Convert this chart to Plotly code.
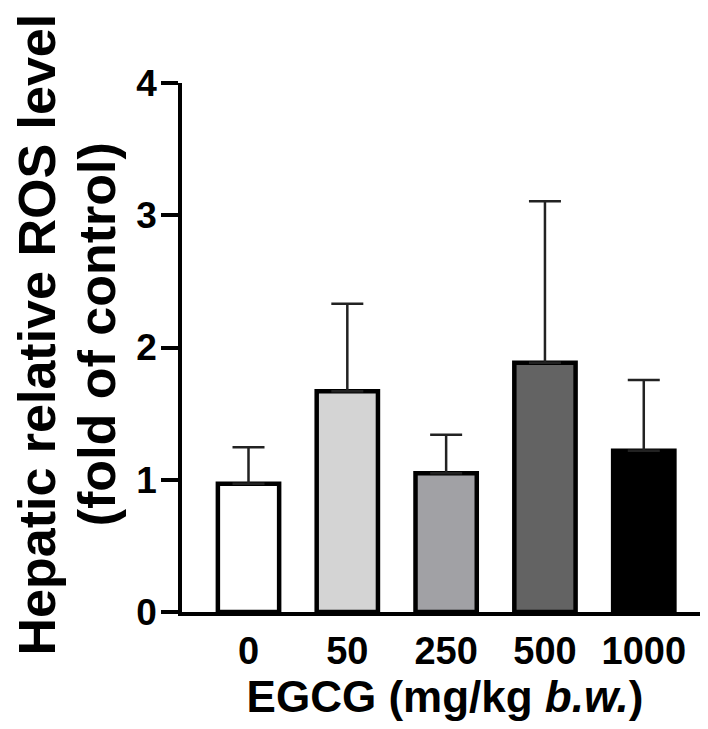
import plotly.graph_objects as go

categories = ["0", "50", "250", "500", "1000"]
means = [0.97, 1.67, 1.05, 1.885, 1.22]
sd_upper = [0.275, 0.66, 0.29, 1.22, 0.535]
fills = ["#ffffff", "#d4d4d4", "#a1a1a5", "#636363", "#000000"]
y_ticks = [0, 1, 2, 3, 4]

FONT = "Liberation Sans, Arial, sans-serif"

fig = go.Figure()
fig.add_trace(go.Bar(
    x=list(range(len(categories))),
    y=means,
    width=0.62,
    marker=dict(color=fills, line=dict(color="#000000", width=4.5)),
    error_y=dict(type="data", symmetric=False, array=sd_upper,
                 arrayminus=[0] * len(means), color="#222222",
                 thickness=2.5, width=16),
    showlegend=False,
))

# the page body has an 8px default margin; the figure is sized so that
# it ends exactly at the window edges
OFF = 8
W, H = 708 - OFF, 729 - OFF
L, R, T = 182 - OFF, 0, 83 - OFF
B = H - (612.5 - OFF)
pw, ph = W - L - R, H - T - B

def px(xpage):
    return (xpage - OFF - L) / pw

def py(ypage):
    return (H - B - (ypage - OFF)) / ph

fig.update_layout(
    width=W, height=H,
    margin=dict(l=L, r=R, t=T, b=B, pad=0),
    plot_bgcolor="white", paper_bgcolor="white",
    font=dict(family=FONT, color="#000000", weight="bold"),
    xaxis=dict(
        range=[-0.673, 4.65],
        tickmode="array", tickvals=list(range(len(categories))), ticktext=categories,
        ticks="", showline=True, linewidth=3.5, linecolor="#000000",
        showgrid=False, zeroline=False, ticklabelstandoff=3,
        tickfont=dict(size=38, family=FONT, weight="bold"),
        title=dict(text="EGCG (mg/kg <i>b.w.</i>)",
                   font=dict(size=44, family=FONT, weight="bold"), standoff=10),
    ),
    yaxis=dict(
        range=[0, 4],
        tickmode="array", tickvals=y_ticks, ticktext=[str(v) for v in y_ticks],
        ticks="outside", ticklen=17, tickwidth=3.5, tickcolor="#000000",
        showline=True, linewidth=3.5, linecolor="#000000",
        showgrid=False, zeroline=False, ticklabelstandoff=-3,
        tickfont=dict(size=37, family=FONT, weight="bold"),
    ),
    annotations=[
        dict(text="Hepatic relative ROS level", textangle=-90,
             xref="paper", yref="paper", x=px(36.7), y=py(335),
             xanchor="center", yanchor="middle", showarrow=False,
             font=dict(size=52, family=FONT, weight="bold")),
        dict(text="(fold of control)", textangle=-90,
             xref="paper", yref="paper", x=px(96.5), y=py(335),
             xanchor="center", yanchor="middle", showarrow=False,
             font=dict(size=52, family=FONT, weight="bold")),
    ],
)

fig.write_html("out.html")
